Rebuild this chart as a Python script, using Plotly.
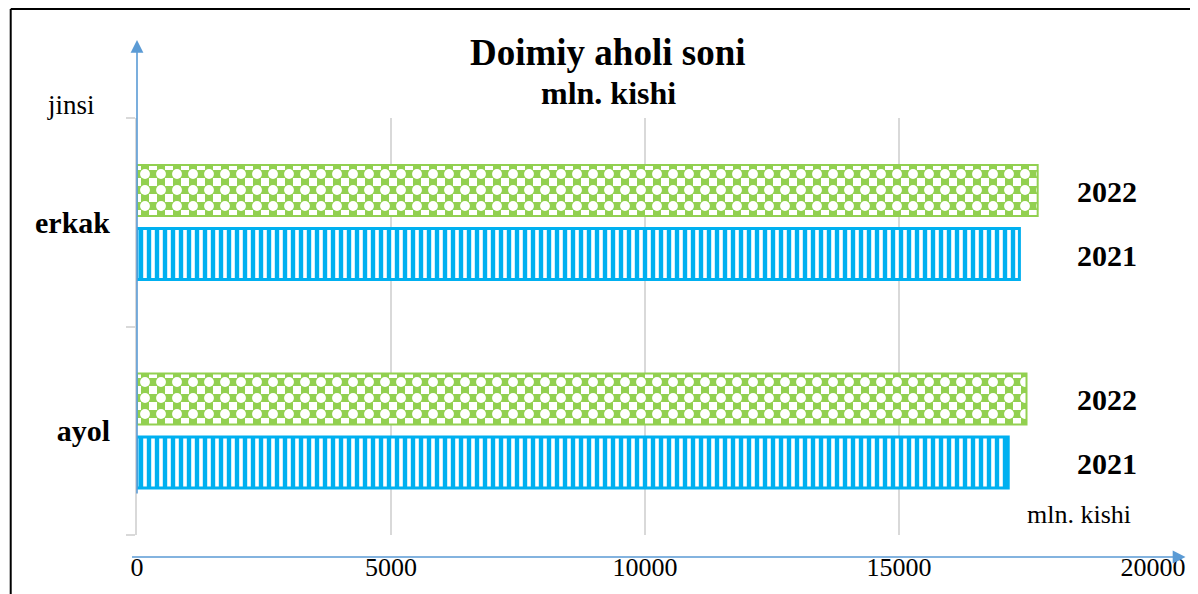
import plotly.graph_objects as go

# jinsi bo'yicha doimiy aholi soni
jinsi = ["ayol", "erkak"]
yillar = ["2021", "2022"]
aholi_2021 = [17150, 17370]
aholi_2022 = [17510, 17730]
x_ticks = [0, 5000, 10000, 15000, 20000]

GREEN = "#92D050"
BLUE = "#00B0F0"
ARROW = "#5B9BD5"
GRID = "#D9D9D9"
FONT = "Liberation Serif"

bar_w = 0.245
off_2021 = -0.275
off_2022 = 0.03

fig = go.Figure()

# 2021 - vertikal chiziqli
fig.add_trace(go.Bar(
    y=jinsi, x=aholi_2021, orientation="h", name=yillar[0],
    width=bar_w, offset=off_2021,
    marker=dict(color="white", line=dict(color=BLUE, width=3),
                pattern=dict(shape="|", fgcolor=BLUE, bgcolor="white",
                             size=8, solidity=0.55, fillmode="replace")),
))

# 2022 - shaxmat: yashil to'r + kesishmalarda oq doiralar
fig.add_trace(go.Bar(
    y=jinsi, x=aholi_2022, orientation="h", name=yillar[1],
    width=bar_w, offset=off_2022,
    marker=dict(color="white", line=dict(width=0),
                pattern=dict(shape="+", fgcolor=GREEN, bgcolor="white",
                             size=16, solidity=0.75, fillmode="replace")),
))
fig.add_trace(go.Bar(
    y=jinsi, x=aholi_2022, orientation="h", name=yillar[1], hoverinfo="skip",
    width=bar_w, offset=off_2022,
    marker=dict(color="rgba(0,0,0,0)", line=dict(color=GREEN, width=2),
                pattern=dict(shape=".", fgcolor="white", bgcolor="rgba(0,0,0,0)",
                             size=16, solidity=0.3, fillmode="replace")),
))

# yil yozuvlari
for i, _ in enumerate(jinsi):
    for yil, off in zip(yillar, [off_2021, off_2022]):
        fig.add_annotation(x=0.955, xref="paper", y=i + off + bar_w / 2, yref="y",
                           text=yil, showarrow=False, yshift=-1,
                           xanchor="center", yanchor="middle",
                           font=dict(family=FONT, size=30, weight="bold"))

# sarlavha va boshqa matnlar
matnlar = [
    (0.464, 1.158, "Doimiy aholi soni", 37, "bold"),
    (0.464, 1.06, "mln. kishi", 32, "bold"),
    (-0.0645, 1.03, "jinsi", 27, "normal"),
    (0.927, 0.05, "mln. kishi", 26, "normal"),
]
for mx, my, txt, fs, fw in matnlar:
    fig.add_annotation(x=mx, y=my, xref="paper", yref="paper", text=txt, showarrow=False,
                       xanchor="center", yanchor="middle",
                       font=dict(family=FONT, size=fs, weight=fw))

# o'q strelkalari
fig.add_annotation(x=1.032, y=-0.0528, xref="paper", yref="paper", text="",
                   showarrow=True, ax=-1055, ay=0, axref="pixel", ayref="pixel",
                   arrowhead=2, arrowsize=1.6, arrowwidth=1.6, arrowcolor=ARROW, standoff=0)
fig.add_annotation(x=0, y=1.187, xref="paper", yref="paper", text="",
                   showarrow=True, ax=0, ay=455, axref="pixel", ayref="pixel",
                   arrowhead=2, arrowsize=1.6, arrowwidth=1.6, arrowcolor=ARROW, standoff=0)

# sahifa ramkasi
fig.add_shape(type="line", xref="paper", yref="paper", x0=-0.1243, x1=1.05, y0=1.2614, y1=1.2614,
              line=dict(color="black", width=2))
fig.add_shape(type="line", xref="paper", yref="paper", x0=-0.1243, x1=-0.1243, y0=1.2614, y1=-0.2,
              line=dict(color="black", width=2))

fig.update_layout(
    width=1190, height=586, barmode="overlay", showlegend=False,
    plot_bgcolor="white", paper_bgcolor="white",
    margin=dict(l=129, r=35, t=110, b=59),
    font=dict(family=FONT, color="black"),
    xaxis=dict(range=[0, 20000], tickvals=x_ticks, tickformat="d", showgrid=True,
               gridcolor=GRID, gridwidth=2, zeroline=False, showline=False, ticks="",
               tickfont=dict(size=26), ticklabelstandoff=14),
    yaxis=dict(type="category", categoryorder="array", categoryarray=jinsi, range=[-0.5, 1.5],
               showline=True, linecolor=GRID, linewidth=2, ticks="outside", tickson="boundaries",
               ticklen=9, tickcolor=GRID, tickwidth=2, showgrid=False,
               tickfont=dict(size=30, weight="bold"), ticklabelstandoff=19),
)

fig.write_html("out.html")
